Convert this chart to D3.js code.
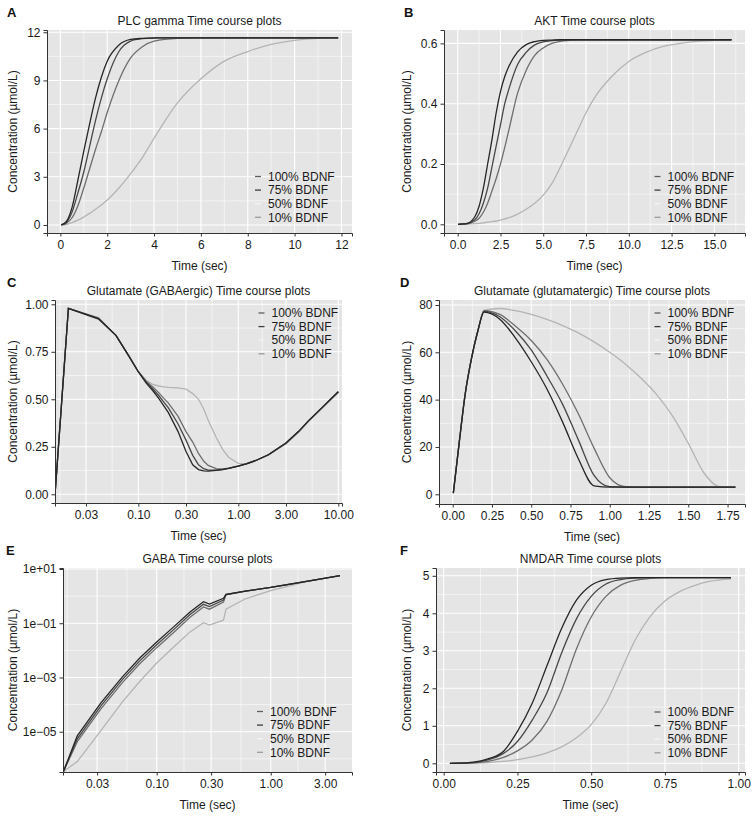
<!DOCTYPE html>
<html>
<head>
<meta charset="utf-8">
<script src="https://cdnjs.cloudflare.com/ajax/libs/d3/7.8.5/d3.min.js"></script>
<style>
body { margin:0; background:#fff; }
svg text { font-family: "Liberation Sans", Arial, sans-serif; }
</style>
</head>
<body>
<svg id="fig" width="752" height="818"></svg>
<script>
// legend names and colours (lines vs legend keys differ in the original)
var seriesNames = ["100% BDNF", "75% BDNF", "50% BDNF", "10% BDNF"];
var lineColors = ["#262626", "#474747", "#6e6e6e", "#b4b4b4"];
var keyColors = ["#5e5e5e", "#3d3d3d", "#f4f4f4", "#9a9a9a"];

// A - PLC gamma
var plcTime = [0.04, 0.25, 0.5, 0.75, 1, 1.25, 1.5, 1.75, 2, 2.5, 3, 3.5, 4, 5, 6, 7, 8, 9, 10, 11, 11.86];
var plc100 = [0, 0.2, 1.1, 2.8, 4.6, 6.3, 7.9, 9.2, 10.2, 11.2, 11.55, 11.62, 11.65, 11.65, 11.65, 11.65, 11.65, 11.65, 11.65, 11.65, 11.65];
var plc75 = [0, 0.15, 0.8, 2.0, 3.3, 4.9, 6.5, 7.9, 9.1, 10.8, 11.45, 11.6, 11.64, 11.65, 11.65, 11.65, 11.65, 11.65, 11.65, 11.65, 11.65];
var plc50 = [0, 0.1, 0.45, 1.2, 2.3, 3.5, 4.7, 5.8, 7.0, 9.0, 10.4, 11.1, 11.45, 11.62, 11.65, 11.65, 11.65, 11.65, 11.65, 11.65, 11.65];
var plc10 = [0, 0.03, 0.15, 0.3, 0.5, 0.72, 0.98, 1.25, 1.55, 2.3, 3.2, 4.2, 5.4, 7.6, 9.1, 10.2, 10.8, 11.25, 11.5, 11.62, 11.65];

// B - AKT
var aktTime = [0.02, 0.5, 1, 1.25, 1.5, 1.75, 2, 2.25, 2.5, 2.75, 3, 3.5, 4, 4.5, 5, 5.5, 6, 6.5, 7, 7.5, 8, 9, 10, 11, 12, 13, 14, 15, 16];
var akt100 = [0, 0.002, 0.025, 0.06, 0.12, 0.2, 0.28, 0.37, 0.44, 0.49, 0.525, 0.572, 0.596, 0.606, 0.61, 0.611, 0.612, 0.612, 0.612, 0.612, 0.612, 0.612, 0.612, 0.612, 0.612, 0.612, 0.612, 0.612, 0.612];
var akt75 = [0, 0.002, 0.015, 0.035, 0.07, 0.12, 0.19, 0.26, 0.33, 0.4, 0.45, 0.53, 0.57, 0.595, 0.605, 0.609, 0.611, 0.612, 0.612, 0.612, 0.612, 0.612, 0.612, 0.612, 0.612, 0.612, 0.612, 0.612, 0.612];
var akt50 = [0, 0.001, 0.01, 0.02, 0.04, 0.07, 0.11, 0.152, 0.2, 0.255, 0.315, 0.435, 0.51, 0.56, 0.585, 0.6, 0.607, 0.61, 0.612, 0.612, 0.612, 0.612, 0.612, 0.612, 0.612, 0.612, 0.612, 0.612, 0.612];
var akt10 = [0, 0.0005, 0.002, 0.003, 0.005, 0.007, 0.009, 0.011, 0.014, 0.018, 0.022, 0.034, 0.05, 0.07, 0.097, 0.135, 0.19, 0.25, 0.31, 0.37, 0.42, 0.49, 0.54, 0.57, 0.59, 0.6, 0.607, 0.61, 0.612];

// C - Glutamate (GABAergic), log time
var gluTime = [0.0147, 0.02, 0.04, 0.06, 0.08, 0.1, 0.12, 0.14, 0.16, 0.18, 0.2, 0.25, 0.3, 0.35, 0.4, 0.45, 0.5, 0.6, 0.7, 0.8, 1, 1.2, 1.5, 2, 3, 4, 5, 7, 10];
var glu100 = [0, 0.979, 0.925, 0.835, 0.73, 0.645, 0.585, 0.545, 0.505, 0.465, 0.43, 0.33, 0.225, 0.155, 0.13, 0.123, 0.122, 0.126, 0.13, 0.136, 0.148, 0.16, 0.178, 0.208, 0.27, 0.33, 0.385, 0.46, 0.54];
var glu75 = [0, 0.979, 0.922, 0.835, 0.73, 0.645, 0.59, 0.555, 0.52, 0.485, 0.455, 0.37, 0.285, 0.205, 0.155, 0.135, 0.127, 0.127, 0.131, 0.137, 0.148, 0.16, 0.178, 0.208, 0.27, 0.33, 0.385, 0.46, 0.54];
var glu50 = [0, 0.979, 0.928, 0.835, 0.73, 0.645, 0.595, 0.565, 0.535, 0.505, 0.48, 0.41, 0.33, 0.275, 0.215, 0.175, 0.152, 0.135, 0.134, 0.138, 0.149, 0.16, 0.178, 0.208, 0.27, 0.33, 0.385, 0.46, 0.54];
var glu10 = [0, 0.979, 0.93, 0.835, 0.73, 0.645, 0.6, 0.578, 0.57, 0.565, 0.563, 0.56, 0.553, 0.53, 0.5, 0.45, 0.39, 0.3, 0.235, 0.195, 0.163, 0.16, 0.178, 0.206, 0.265, 0.325, 0.38, 0.455, 0.535];

// D - Glutamate (glutamatergic)
var dgTime = [0.004, 0.04, 0.08, 0.12, 0.16, 0.2, 0.3, 0.4, 0.5, 0.6, 0.7, 0.8, 0.9, 1.0, 1.1, 1.2, 1.3, 1.4, 1.5, 1.6, 1.7, 1.8];
var dg100 = [0.5, 21, 42.5, 57.5, 69, 77, 74, 66, 56, 44.5, 30.5, 15, 3.6, 3, 3, 3, 3, 3, 3, 3, 3, 3];
var dg75 = [0.5, 21, 42.5, 57.5, 69, 77.3, 75, 69, 61, 50, 38, 23, 8, 3.2, 3, 3, 3, 3, 3, 3, 3, 3];
var dg50 = [0.5, 21, 42.5, 57.5, 69, 77.6, 76, 71, 65, 57, 46.5, 34, 19.5, 7, 3.2, 3, 3, 3, 3, 3, 3, 3];
var dg10 = [0.5, 21, 42.5, 57.5, 69, 77.8, 78.5, 77.6, 76.0, 73.9, 71.3, 68.2, 64.4, 60, 55, 49, 42, 33, 21.5, 9, 3.2, 3];

// E - GABA, log-log
var gabaTime = [0.0152, 0.0201, 0.0324, 0.05, 0.071, 0.1, 0.14, 0.196, 0.257, 0.29, 0.385, 0.405, 0.6, 1, 2, 4.05];
var gaba100 = [3.4e-7, 7e-6, 1.15e-4, 1.05e-3, 5.2e-3, 0.0204, 0.072, 0.26, 0.62, 0.51, 0.83, 1.17, 1.53, 2.1, 3.45, 5.66];
var gaba75 = [3.4e-7, 5.5e-6, 9e-5, 8.3e-4, 4.1e-3, 0.0162, 0.057, 0.21, 0.5, 0.41, 0.72, 1.15, 1.53, 2.1, 3.45, 5.66];
var gaba50 = [3.4e-7, 4.3e-6, 7e-5, 6.5e-4, 3.2e-3, 0.0126, 0.045, 0.165, 0.4, 0.33, 0.6, 1.12, 1.52, 2.1, 3.45, 5.66];
var gaba10 = [3.4e-7, 7.9e-7, 1.1e-5, 1.26e-4, 7.1e-4, 3.4e-3, 0.013, 0.048, 0.105, 0.086, 0.13, 0.33, 0.8, 1.6, 3.35, 5.66];

// F - NMDAR
var nmTime = [0.021, 0.05, 0.1, 0.15, 0.2, 0.25, 0.3, 0.35, 0.4, 0.45, 0.5, 0.55, 0.6, 0.65, 0.7, 0.75, 0.8, 0.85, 0.9, 0.974];
var nm100 = [0, 0.003, 0.03, 0.12, 0.3, 0.85, 1.6, 2.6, 3.6, 4.35, 4.75, 4.9, 4.94, 4.95, 4.95, 4.95, 4.95, 4.95, 4.95, 4.95];
var nm75 = [0, 0.002, 0.02, 0.09, 0.25, 0.58, 1.15, 1.88, 2.95, 3.85, 4.45, 4.78, 4.9, 4.94, 4.95, 4.95, 4.95, 4.95, 4.95, 4.95];
var nm50 = [0, 0.001, 0.012, 0.05, 0.15, 0.33, 0.62, 1.12, 1.95, 3.05, 3.9, 4.45, 4.75, 4.88, 4.93, 4.95, 4.95, 4.95, 4.95, 4.95];
var nm10 = [0, 0, 0.005, 0.02, 0.05, 0.1, 0.17, 0.28, 0.44, 0.68, 1.03, 1.6, 2.45, 3.3, 3.92, 4.33, 4.58, 4.74, 4.85, 4.92];

// tick values and labels
var plcXTicks = [0, 2, 4, 6, 8, 10, 12];
var plcXLabels = ["0", "2", "4", "6", "8", "10", "12"];
var plcYTicks = [0, 3, 6, 9, 12];
var plcYLabels = ["0", "3", "6", "9", "12"];
var aktXTicks = [0, 2.5, 5, 7.5, 10, 12.5, 15];
var aktXLabels = ["0.0", "2.5", "5.0", "7.5", "10.0", "12.5", "15.0"];
var aktYTicks = [0, 0.2, 0.4, 0.6];
var aktYLabels = ["0.0", "0.2", "0.4", "0.6"];
var gluXTicks = [0.03, 0.1, 0.3, 1, 3, 10];
var gluXLabels = ["0.03", "0.10", "0.30", "1.00", "3.00", "10.00"];
var gluYTicks = [0, 0.25, 0.5, 0.75, 1];
var gluYLabels = ["0.00", "0.25", "0.50", "0.75", "1.00"];
var dgXTicks = [0, 0.25, 0.5, 0.75, 1, 1.25, 1.5, 1.75];
var dgXLabels = ["0.00", "0.25", "0.50", "0.75", "1.00", "1.25", "1.50", "1.75"];
var dgYTicks = [0, 20, 40, 60, 80];
var dgYLabels = ["0", "20", "40", "60", "80"];
var gabaXTicks = [0.03, 0.1, 0.3, 1, 3];
var gabaXLabels = ["0.03", "0.10", "0.30", "1.00", "3.00"];
var gabaYTicks = [1e-5, 1e-3, 1e-1, 1e1];
var gabaYLabels = ["1e\u221205", "1e\u221203", "1e\u221201", "1e+01"];
var nmXTicks = [0, 0.25, 0.5, 0.75, 1];
var nmXLabels = ["0.00", "0.25", "0.50", "0.75", "1.00"];
var nmYTicks = [0, 1, 2, 3, 4, 5];
var nmYLabels = ["0", "1", "2", "3", "4", "5"];

var panels = [
  {letter: "A", title: "PLC gamma Time course plots", left: 47, right: 352, top: 30, bottom: 233,
   letterX: 7, ylabX: 12.5, legX: 258, legY: 176.5,
   xLog: false, xDomain: [-0.57, 12.45], xTicks: plcXTicks, xLabels: plcXLabels,
   yLog: false, yDomain: [-0.5, 12.14], yTicks: plcYTicks, yLabels: plcYLabels,
   time: plcTime, series: [plc100, plc75, plc50, plc10], curve: d3.curveMonotoneX},
  {letter: "B", title: "AKT Time course plots", left: 444, right: 745, top: 30, bottom: 233,
   letterX: 404, ylabX: 407, legX: 657.5, legY: 176.5,
   xLog: false, xDomain: [-0.8, 16.79], xTicks: aktXTicks, xLabels: aktXLabels,
   yLog: false, yDomain: [-0.0288, 0.6444], yTicks: aktYTicks, yLabels: aktYLabels,
   time: aktTime, series: [akt100, akt75, akt50, akt10], curve: d3.curveMonotoneX},
  {letter: "C", title: "Glutamate (GABAergic) Time course plots", left: 55, right: 342, top: 300, bottom: 503,
   letterX: 7, ylabX: 12.5, legX: 261.5, legY: 313,
   xLog: true, xDomain: [0.01469, 10.89], xTicks: gluXTicks, xLabels: gluXLabels,
   yLog: false, yDomain: [-0.0458, 1.0226], yTicks: gluYTicks, yLabels: gluYLabels,
   time: gluTime, series: [glu100, glu75, glu50, glu10], curve: d3.curveLinear},
  {letter: "D", title: "Glutamate (glutamatergic) Time course plots", left: 439, right: 745, top: 300, bottom: 504,
   letterX: 400, ylabX: 407, legX: 657.5, legY: 313,
   xLog: false, xDomain: [-0.0872, 1.861], xTicks: dgXTicks, xLabels: dgXLabels,
   yLog: false, yDomain: [-4.1, 82.1], yTicks: dgYTicks, yLabels: dgYLabels,
   time: dgTime, series: [dg100, dg75, dg50, dg10], curve: d3.curveMonotoneX},
  {letter: "E", title: "GABA Time course plots", left: 63, right: 352, top: 568, bottom: 772,
   letterX: 6, ylabX: 12.5, legX: 260, legY: 711.5,
   xLog: true, xDomain: [0.01507, 5.16], xTicks: gabaXTicks, xLabels: gabaXLabels,
   yLog: true, yDomain: [3.27e-7, 10.9], yTicks: gabaYTicks, yLabels: gabaYLabels,
   time: gabaTime, series: [gaba100, gaba75, gaba50, gaba10], curve: d3.curveLinear},
  {letter: "F", title: "NMDAR Time course plots", left: 436, right: 745, top: 568, bottom: 772,
   letterX: 400, ylabX: 407, legX: 657.5, legY: 712,
   xLog: false, xDomain: [-0.0261, 1.0214], xTicks: nmXTicks, xLabels: nmXLabels,
   yLog: false, yDomain: [-0.232, 5.208], yTicks: nmYTicks, yLabels: nmYLabels,
   time: nmTime, series: [nm100, nm75, nm50, nm10], curve: d3.curveMonotoneX}
];

var svg = d3.select("#fig");
svg.append("rect").attr("width", 752).attr("height", 818).attr("fill", "#fff");

// minor grid sits halfway between majors (in log space for log scales)
var minorBreaks = function(ticks, isLog, domain)
{
  var t = ticks.map(function(v) { return isLog ? Math.log10(v) : v; });
  var ext = [t[0] - (t[1] - t[0])].concat(t).concat([t[t.length - 1] + (t[t.length - 1] - t[t.length - 2])]);
  var out = [];
  for (var i = 0; i < ext.length - 1; i++) {
    out.push((ext[i] + ext[i + 1]) / 2);
  }
  return out.map(function(v) { return isLog ? Math.pow(10, v) : v; })
    .filter(function(v) { return v > domain[0] && v < domain[1]; });
}

var drawPanel = function(p)
{
  var g = svg.append("g");
  var xScale = (p.xLog ? d3.scaleLog() : d3.scaleLinear()).domain(p.xDomain).range([p.left, p.right]);
  var yScale = (p.yLog ? d3.scaleLog() : d3.scaleLinear()).domain(p.yDomain).range([p.bottom, p.top]);

  g.append("rect")
    .attr("x", p.left).attr("y", p.top)
    .attr("width", p.right - p.left).attr("height", p.bottom - p.top)
    .attr("fill", "#e5e5e5");

  var grid = g.append("g").attr("stroke", "#fff").attr("fill", "none");
  minorBreaks(p.xTicks, p.xLog, p.xDomain).forEach(function(v) {
    grid.append("line").attr("x1", xScale(v)).attr("x2", xScale(v))
      .attr("y1", p.top).attr("y2", p.bottom).attr("stroke-width", 0.55);
  });
  minorBreaks(p.yTicks, p.yLog, p.yDomain).forEach(function(v) {
    grid.append("line").attr("y1", yScale(v)).attr("y2", yScale(v))
      .attr("x1", p.left).attr("x2", p.right).attr("stroke-width", 0.55);
  });
  p.xTicks.forEach(function(v) {
    grid.append("line").attr("x1", xScale(v)).attr("x2", xScale(v))
      .attr("y1", p.top).attr("y2", p.bottom).attr("stroke-width", 1.1);
  });
  p.yTicks.forEach(function(v) {
    grid.append("line").attr("y1", yScale(v)).attr("y2", yScale(v))
      .attr("x1", p.left).attr("x2", p.right).attr("stroke-width", 1.1);
  });

  var clipId = "clip" + p.letter;
  g.append("clipPath").attr("id", clipId).append("rect")
    .attr("x", p.left).attr("y", p.top)
    .attr("width", p.right - p.left).attr("height", p.bottom - p.top);

  var line = d3.line()
    .x(function(d) { return xScale(d[0]); })
    .y(function(d) { return yScale(d[1]); })
    .curve(p.curve);

  // lightest series first so the 100% line ends up on top
  [3, 2, 1, 0].forEach(function(i) {
    var pts = p.time.map(function(t, j) { return [t, p.series[i][j]]; });
    g.append("path")
      .attr("d", line(pts))
      .attr("clip-path", "url(#" + clipId + ")")
      .attr("fill", "none")
      .attr("stroke", lineColors[i])
      .attr("stroke-width", 1.3);
  });

  var xAxis = g.append("g")
    .attr("transform", "translate(0," + p.bottom + ")")
    .call(d3.axisBottom(xScale)
      .tickValues(p.xTicks)
      .tickFormat(function(d, i) { return p.xLabels[i]; })
      .tickSizeInner(3.5).tickSizeOuter(3.5).tickPadding(4));
  var yAxis = g.append("g")
    .attr("transform", "translate(" + p.left + ",0)")
    .call(d3.axisLeft(yScale)
      .tickValues(p.yTicks)
      .tickFormat(function(d, i) { return p.yLabels[i]; })
      .tickSizeInner(3.5).tickSizeOuter(3.5).tickPadding(3));
  [xAxis, yAxis].forEach(function(ax) {
    ax.selectAll("path, line").attr("stroke", "#333");
    ax.selectAll("text").attr("font-size", 12).attr("fill", "#1a1a1a")
      .attr("font-family", "Liberation Sans, Arial, sans-serif");
  });

  g.append("text")
    .attr("x", (p.left + p.right) / 2).attr("y", p.top - 5)
    .attr("text-anchor", "middle").attr("font-size", 12).attr("fill", "#1a1a1a")
    .text(p.title);

  g.append("text")
    .attr("x", p.letterX).attr("y", p.top - 13)
    .attr("font-size", 13).attr("font-weight", "bold").attr("fill", "#111")
    .text(p.letter);

  g.append("text")
    .attr("x", (p.left + p.right) / 2).attr("y", p.bottom + 36.5)
    .attr("text-anchor", "middle").attr("font-size", 12).attr("fill", "#1a1a1a")
    .text("Time (sec)");

  g.append("text")
    .attr("transform", "translate(" + p.ylabX + "," + (p.top + p.bottom) / 2 + ") rotate(-90)")
    .attr("text-anchor", "middle").attr("dy", "0.35em").attr("font-size", 12).attr("fill", "#1a1a1a")
    .text("Concentration (\u00b5mol/L)");

  var leg = g.append("g");
  seriesNames.forEach(function(name, i) {
    var yy = p.legY + i * 13.6;
    leg.append("line")
      .attr("x1", p.legX - 3).attr("x2", p.legX + 3)
      .attr("y1", yy).attr("y2", yy)
      .attr("stroke", keyColors[i]).attr("stroke-width", 1.3);
    leg.append("text")
      .attr("x", p.legX + 10).attr("y", yy).attr("dy", "0.35em")
      .attr("font-size", 12).attr("fill", "#1a1a1a")
      .text(name);
  });
}

panels.forEach(function(p) { drawPanel(p); });
</script>
</body>
</html>
